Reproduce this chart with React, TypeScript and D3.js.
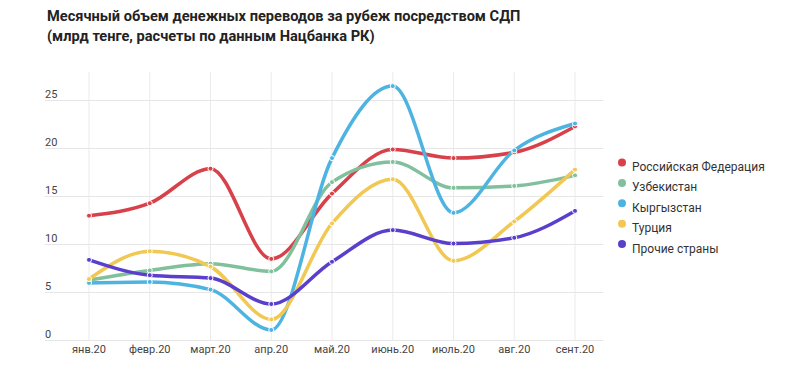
import React from 'react';
import * as d3 from 'd3';

const months = ['янв.20', 'февр.20', 'март.20', 'апр.20', 'май.20', 'июнь.20', 'июль.20', 'авг.20', 'сент.20'];
const yTicks = [0, 5, 10, 15, 20, 25];

const seriesNames = ['Российская Федерация', 'Узбекистан', 'Кыргызстан', 'Турция', 'Прочие страны'];
const seriesColors = ['#d8414a', '#80c09c', '#4db4e2', '#f1c853', '#5a3fcd'];

const russia = [13.0, 14.3, 17.9, 8.5, 15.3, 19.9, 19.0, 19.6, 22.3];
const uzbekistan = [6.3, 7.3, 8.0, 7.2, 16.5, 18.6, 15.9, 16.1, 17.2];
const kyrgyzstan = [6.0, 6.1, 5.3, 1.1, 19.0, 26.5, 13.3, 19.8, 22.6];
const turkey = [6.4, 9.3, 7.7, 2.2, 12.2, 16.8, 8.3, 12.4, 17.8];
const others = [8.4, 6.8, 6.5, 3.8, 8.2, 11.5, 10.1, 10.7, 13.5];

const seriesValues = [russia, uzbekistan, kyrgyzstan, turkey, others];

const width = 800;
const height = 366;
const font = 'Roboto, "Noto Sans", sans-serif';

export default function App() {
  const x = d3.scalePoint<string>().domain(months).range([89, 575]);
  const y = d3.scaleLinear().domain([0, 25]).range([340.5, 100.5]);

  const line = d3.line<number>()
    .x((d, i) => x(months[i]) as number)
    .y(d => y(d))
    .curve(d3.curveMonotoneX);

  return (
    <svg width={width} height={height}
         style={{ position: 'absolute', left: 0, top: 0, background: '#fff', fontFamily: font }}>
      <text x={47} y={20.5} fontSize={14.6} fontWeight="bold" fill="#222">
        Месячный объем денежных переводов за рубеж посредством СДП
      </text>
      <text x={47} y={41} fontSize={14.6} fontWeight="bold" fill="#222">
        (млрд тенге, расчеты по данным Нацбанка РК)
      </text>

      {/* grid */}
      {months.map(m => (
        <line key={m} x1={x(m)} x2={x(m)} y1={72} y2={y(0)} stroke="#ebebeb" strokeWidth={1} />
      ))}
      {yTicks.map(t => (
        <g key={t}>
          <line x1={45} x2={603} y1={y(t)} y2={y(t)} stroke="#e6e6e6" strokeWidth={1} />
          <text x={45} y={y(t) - 3} fontSize={11} fill="#444">{t}</text>
        </g>
      ))}
      {months.map(m => (
        <text key={m} x={x(m)} y={353} fontSize={11} fill="#444" textAnchor="middle">{m}</text>
      ))}

      {/* lines */}
      {seriesValues.map((vals, s) => (
        <path key={s} d={line(vals) as string} fill="none" stroke={seriesColors[s]}
              strokeWidth={3.5} strokeLinecap="round" />
      ))}
      {seriesValues.map((vals, s) => (
        <g key={'p' + s}>
          {vals.map((v, i) => (
            <circle key={i} cx={x(months[i])} cy={y(v)} r={2.5}
                    fill={seriesColors[s]} stroke="#fff" strokeWidth={1} />
          ))}
        </g>
      ))}

      {/* legend */}
      {seriesNames.map((name, i) => (
        <g key={name} transform={`translate(0, ${166.5 + i * 20.4})`}>
          <circle cx={622} cy={-4} r={4} fill={seriesColors[i]} />
          <text x={632} y={4.5} fontSize={12} fill="#333">{name}</text>
        </g>
      ))}
    </svg>
  );
}
